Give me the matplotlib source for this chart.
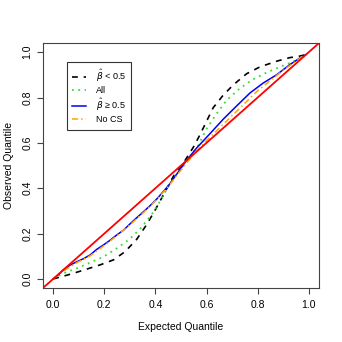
import numpy as np
import matplotlib
matplotlib.use('Agg')
import matplotlib.pyplot as plt

plt.rcParams['font.family'] = ['Liberation Sans', 'DejaVu Sans']

# expected quantile (x) vs observed quantile (y)
x_lo = [0.0, 0.034, 0.08, 0.131, 0.184, 0.236, 0.281, 0.327, 0.366, 0.398, 0.431,
        0.47, 0.509, 0.548, 0.574, 0.60, 0.626, 0.665, 0.704, 0.757,
        0.809, 0.874, 0.926, 0.958, 0.985]
y_lo = [0.0, 0.01, 0.025, 0.043, 0.062, 0.084, 0.12, 0.175, 0.24, 0.302, 0.37,
        0.452, 0.51, 0.58, 0.635, 0.695, 0.755, 0.81, 0.855, 0.905,
        0.935, 0.96, 0.976, 0.981, 0.988]

x_all = [0.0, 0.04, 0.093, 0.145, 0.197, 0.249, 0.30, 0.346, 0.386, 0.418, 0.444,
         0.483, 0.522, 0.568, 0.60, 0.639, 0.678, 0.73, 0.782, 0.835, 0.887,
         0.939, 0.965, 0.985]
y_all = [0.0, 0.025, 0.047, 0.072, 0.098, 0.135, 0.176, 0.228, 0.285, 0.342, 0.395,
         0.464, 0.518, 0.59, 0.662, 0.728, 0.787, 0.84, 0.88, 0.91, 0.935,
         0.958, 0.974, 0.988]

x_hi = [0.0, 0.017, 0.04, 0.065, 0.093, 0.12, 0.145, 0.17, 0.197, 0.222, 0.249, 0.275,
        0.30, 0.325, 0.353, 0.38, 0.405, 0.45, 0.486, 0.52, 0.561, 0.613, 0.665,
        0.717, 0.77, 0.822, 0.874, 0.926, 0.965, 0.99]
y_hi = [0.0, 0.015, 0.04, 0.06, 0.076, 0.09, 0.106, 0.13, 0.15, 0.17, 0.194, 0.215,
        0.242, 0.268, 0.296, 0.324, 0.352, 0.41, 0.466, 0.52, 0.577, 0.64, 0.704,
        0.762, 0.82, 0.864, 0.90, 0.945, 0.974, 0.99]

x_nocs = [0.0, 0.04, 0.093, 0.145, 0.197, 0.249, 0.30, 0.353, 0.405, 0.45, 0.50,
          0.55, 0.60, 0.65, 0.70, 0.75, 0.80, 0.85, 0.90, 0.95, 0.985]
y_nocs = [0.0, 0.035, 0.072, 0.102, 0.145, 0.19, 0.238, 0.292, 0.35, 0.407, 0.48,
          0.55, 0.61, 0.665, 0.72, 0.775, 0.83, 0.875, 0.92, 0.96, 0.99]

labels = [r'$\hat{\beta}$ < 0.5', 'All', r'$\hat{\beta}$ ≥ 0.5', 'No CS']

fig = plt.figure(figsize=(3.42, 3.42), dpi=100)
ax = fig.add_axes([0.1257, 0.158, 0.807, 0.716])

ax.plot(x_lo, y_lo, color='black', linestyle=(0, (3.5, 3.5)), linewidth=1.2, label=labels[0])
ax.plot(x_all, y_all, color='#33dd33', linestyle=(0, (1, 2.5)), linewidth=1.3, label=labels[1])
ax.plot(x_hi, y_hi, color='blue', linewidth=1.1, label=labels[2])
ax.plot(x_nocs, y_nocs, color='orange', linestyle=(0, (4, 2, 1, 2)), linewidth=1.1, label=labels[3])
ax.axline((0, 0), slope=1, color='red', linewidth=1.3)

ax.set_xlim(-0.04, 1.04)
ax.set_ylim(-0.04, 1.04)
ticks = [0.0, 0.2, 0.4, 0.6, 0.8, 1.0]
ax.set_xticks(ticks)
ax.set_yticks(ticks)
ax.set_xticklabels([f'{t:.1f}' for t in ticks], fontsize=7.5)
ax.set_yticklabels([f'{t:.1f}' for t in ticks], fontsize=7.5, rotation=90, va='center')
ax.tick_params(direction='out', length=4.5, width=0.8, color='#444444', pad=4)
ax.tick_params(axis='y', pad=3)
for s in ax.spines.values():
    s.set_linewidth(0.8)
    s.set_color('#444444')

ax.set_xlabel('Expected Quantile', fontsize=7.5, labelpad=9)
ax.set_ylabel('Observed Quantile', fontsize=7.5, labelpad=6)

leg = ax.legend(loc='upper left', bbox_to_anchor=(0.087, 0.922), borderaxespad=0,
                fontsize=6.5, frameon=True, fancybox=False, handlelength=1.5,
                handletextpad=1.1, labelspacing=0.2, borderpad=0.6)
leg.get_frame().set_edgecolor('black')
leg.get_frame().set_linewidth(0.8)

fig.savefig('out.png', dpi=100)
